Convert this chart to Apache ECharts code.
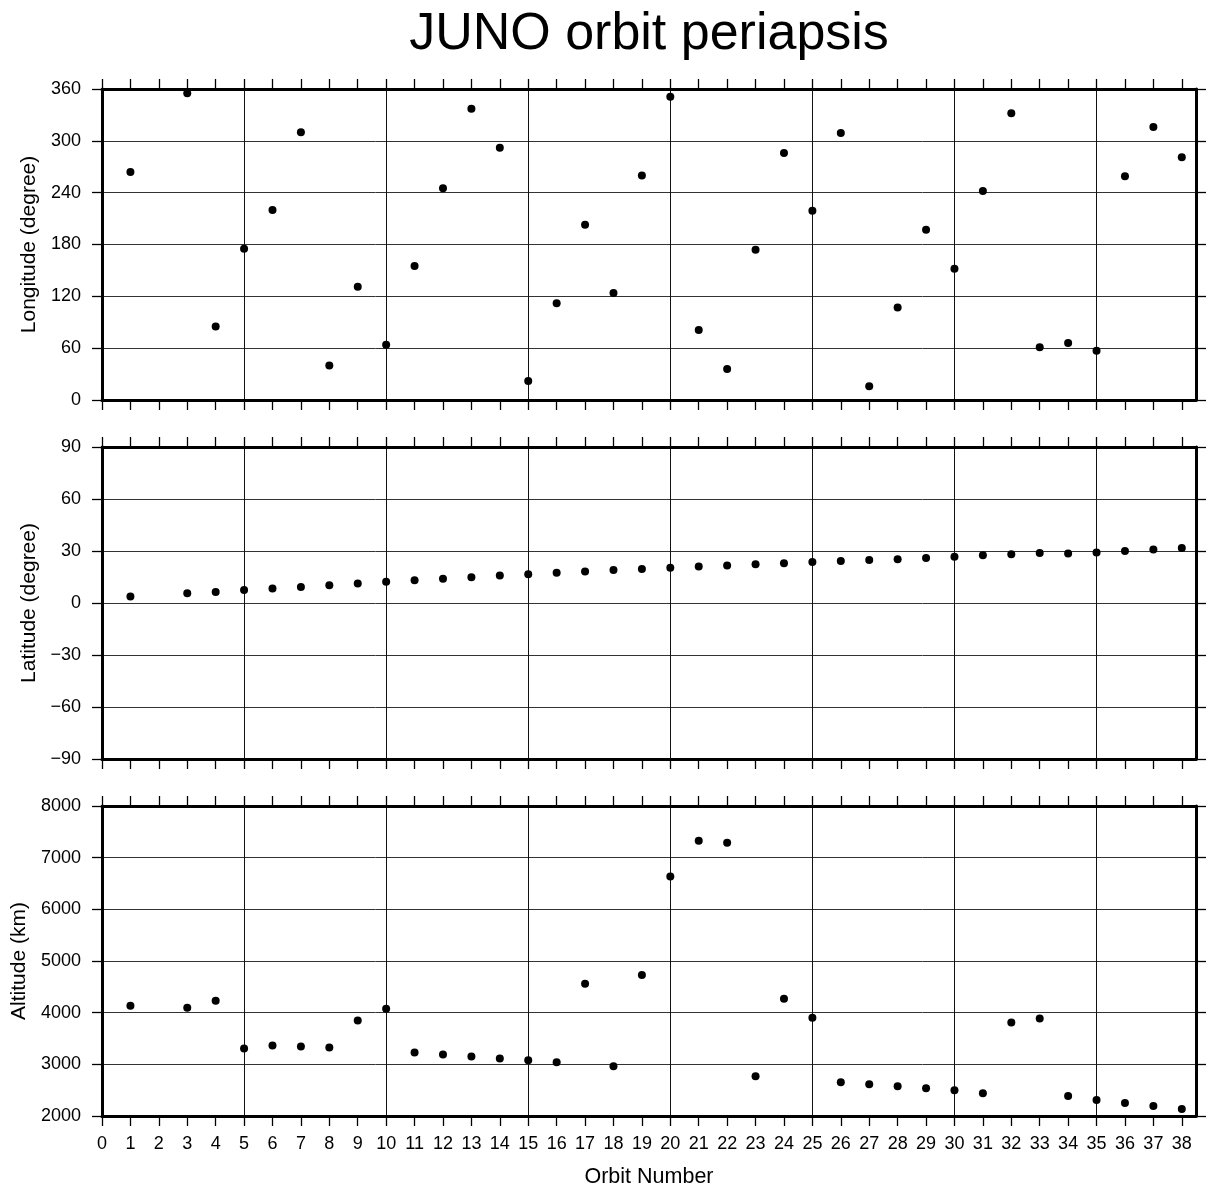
<!DOCTYPE html>
<html>
<head>
<meta charset="utf-8">
<style>
  html, body { margin: 0; padding: 0; background: #fff; }
  #chart { width: 1208px; height: 1189px; }
</style>
<script src="https://cdn.jsdelivr.net/npm/echarts@6/dist/echarts.min.js"></script>
</head>
<body>
<div id="chart"></div>
<script>
// ---- data ----
const orbits = [1, 3, 4, 5, 6, 7, 8, 9, 10, 11, 12, 13, 14, 15, 16, 17, 18, 19, 20,
  21, 22, 23, 24, 25, 26, 27, 28, 29, 30, 31, 32, 33, 34, 35, 36, 37, 38];
const longitude = [264, 355, 85, 175, 220, 310, 40, 131, 64, 155, 245, 337, 292, 22, 112, 203, 124, 260, 351,
  81, 36, 174, 286, 219, 309, 16, 107, 197, 152, 242, 332, 61, 66, 57, 259, 316, 281];
const latitude = [3.7, 5.6, 6.4, 7.5, 8.3, 9.3, 10.2, 11.2, 12.2, 13.1, 14.0, 14.9, 15.9, 16.6, 17.4, 18.2, 19.0, 19.6, 20.3,
  21.1, 21.7, 22.4, 23.0, 23.6, 24.2, 24.8, 25.3, 25.9, 26.7, 27.5, 28.1, 28.8, 28.5, 29.2, 30.0, 30.8, 31.7];
const altitude = [4135, 4096, 4231, 3308, 3365, 3346, 3327, 3846, 4077, 3231, 3192, 3154, 3115, 3077, 3038, 4558, 2962, 4731, 6635,
  7327, 7288, 2769, 4269, 3904, 2654, 2615, 2577, 2538, 2500, 2442, 3808, 3885, 2385, 2308, 2250, 2192, 2135];
const xTicks = Array.from({length: 39}, (_, i) => i);   // 0..38
const xRange = [0, 38.5];
const panels = [
  { name: 'Longitude (degree)', values: longitude, min: 0, max: 360, interval: 60, nameGap: 60 },
  { name: 'Latitude (degree)', values: latitude, min: -90, max: 90, interval: 30, nameGap: 60 },
  { name: 'Altitude (km)', values: altitude, min: 2000, max: 8000, interval: 1000, nameGap: 71 }
];
const titleText = 'JUNO orbit periapsis';
const xName = 'Orbit Number';

// ---- layout ----
const FONT = 'Liberation Sans';
const gridTops = [89, 447, 806];
const gridHeights = [311, 312, 312];

const grids = [], xAxes = [], yAxes = [], series = [];
const frameLine = { show: true, onZero: false, lineStyle: { color: '#000', width: 3 } };
const tick = { show: true, inside: false, length: 10, lineStyle: { color: '#000', width: 1.3 } };
const splitColors = ['#111', 'rgba(0,0,0,0)', 'rgba(0,0,0,0)', 'rgba(0,0,0,0)', 'rgba(0,0,0,0)'];

panels.forEach((p, g) => {
  grids.push({ left: 102, right: 12, top: gridTops[g], height: gridHeights[g], containLabel: false });
  const isLast = g === panels.length - 1;
  // bottom x axis
  xAxes.push({
    type: 'value', gridIndex: g, position: 'bottom', min: xRange[0], max: xRange[1], interval: 1,
    axisLine: frameLine,
    axisTick: Object.assign({}, tick, { customValues: xTicks }),
    axisLabel: {
      show: isLast, customValues: xTicks, margin: 19, color: '#000', fontFamily: FONT, fontSize: 18,
      formatter: v => (Number.isInteger(v) ? String(v) : '')
    },
    splitLine: { show: true, lineStyle: { color: splitColors, width: 1 } },
    name: isLast ? xName : '', nameLocation: 'middle', nameGap: 50,
    nameTextStyle: { color: '#000', fontFamily: FONT, fontSize: 21.5 }
  });
  // top x axis (frame + ticks)
  xAxes.push({
    type: 'value', gridIndex: g, position: 'top', min: xRange[0], max: xRange[1], interval: 1,
    axisLine: frameLine,
    axisTick: Object.assign({}, tick, { customValues: xTicks }),
    axisLabel: { show: false },
    splitLine: { show: false }
  });
  // left y axis
  yAxes.push({
    type: 'value', gridIndex: g, position: 'left', min: p.min, max: p.max, interval: p.interval,
    axisLine: frameLine, axisTick: tick,
    axisLabel: { margin: 21, color: '#000', fontFamily: FONT, fontSize: 18,
      formatter: v => String(v).replace('-', '\u2212') },
    splitLine: { show: true, lineStyle: { color: '#333', width: 1 } },
    name: p.name, nameLocation: 'middle', nameGap: p.nameGap, nameRotate: 90,
    nameTextStyle: { color: '#000', fontFamily: FONT, fontSize: 21 }
  });
  // right y axis (frame + ticks)
  yAxes.push({
    type: 'value', gridIndex: g, position: 'right', min: p.min, max: p.max, interval: p.interval,
    axisLine: frameLine, axisTick: tick,
    axisLabel: { show: false }, splitLine: { show: false }
  });
  series.push({
    type: 'scatter', xAxisIndex: 2 * g, yAxisIndex: 2 * g,
    data: orbits.map((o, i) => [o, p.values[i]]),
    symbol: 'circle', symbolSize: 8,
    itemStyle: { color: '#000', opacity: 1 },
    silent: true, animation: false
  });
});

const chart = echarts.init(document.getElementById('chart'), null, { renderer: 'canvas' });
chart.setOption({
  backgroundColor: '#fff',
  animation: false,
  title: {
    text: titleText, left: 644, textAlign: 'center', top: 4,
    textStyle: { color: '#000', fontFamily: FONT, fontSize: 52, fontWeight: 'normal' }
  },
  grid: grids,
  xAxis: xAxes,
  yAxis: yAxes,
  series: series
});
</script>
</body>
</html>
